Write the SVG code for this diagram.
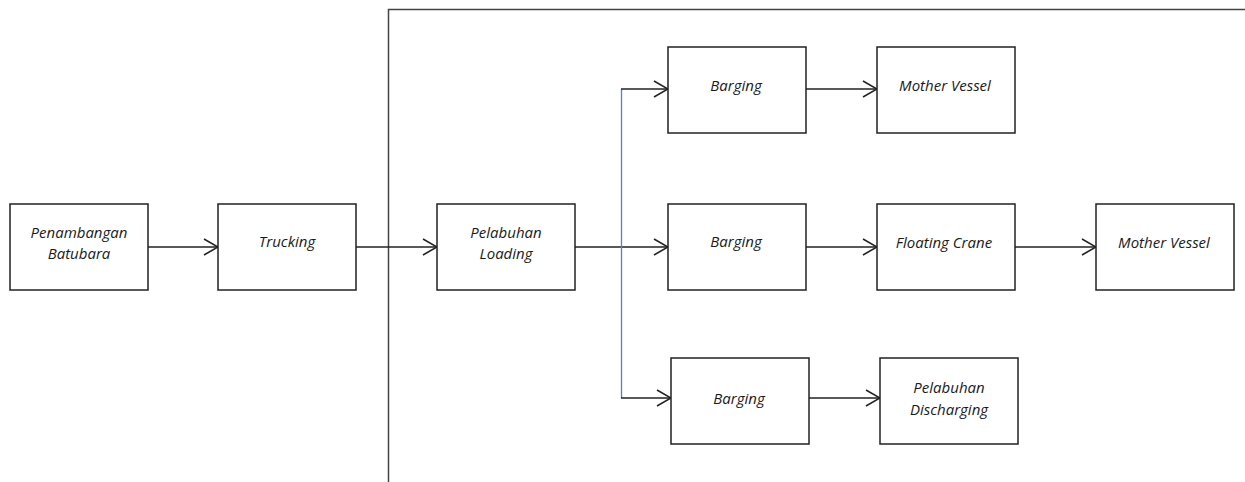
<svg xmlns="http://www.w3.org/2000/svg" width="1245" height="482" viewBox="0 0 1245 482">
<style>
.box{fill:#fff;stroke:#222;stroke-width:1.5}
.t{font-family:"Open Sans","Liberation Sans",sans-serif;font-style:italic;font-size:15px;fill:#1a1a1a;text-anchor:middle}
.c{fill:none;stroke:#222;stroke-width:1.5}
.b{fill:none;stroke:#5b7fc0;stroke-width:1.3}
</style>
<defs>
<marker id="ah" markerWidth="16" markerHeight="18" refX="15" refY="9" orient="auto" markerUnits="userSpaceOnUse">
<path d="M1,1 L15,9 L1,17" fill="none" stroke="#222" stroke-width="1.5"/>
</marker>
</defs>
<g id="frame">
<path d="M388.5,482 L388.5,9.5 L1245,9.5" fill="none" stroke="#444" stroke-width="1.5"/>
</g>
<g id="connectors">
<line class="c" x1="148" y1="247" x2="218" y2="247" marker-end="url(#ah)"/>
<line class="c" x1="356" y1="247" x2="437" y2="247" marker-end="url(#ah)"/>
<line class="c" x1="575" y1="247" x2="668" y2="247" marker-end="url(#ah)"/>
<line class="b" x1="621.5" y1="89" x2="621.5" y2="398"/>
<line class="c" x1="621" y1="89" x2="668" y2="89" marker-end="url(#ah)"/>
<line class="c" x1="621" y1="398" x2="671" y2="398" marker-end="url(#ah)"/>
<line class="c" x1="806" y1="89" x2="877" y2="89" marker-end="url(#ah)"/>
<line class="c" x1="806" y1="247" x2="877" y2="247" marker-end="url(#ah)"/>
<line class="c" x1="1015" y1="247" x2="1096" y2="247" marker-end="url(#ah)"/>
<line class="c" x1="809" y1="398" x2="880" y2="398" marker-end="url(#ah)"/>
</g>
<g id="n1"><rect class="box" x="10" y="204" width="138" height="86"/><text class="t" x="79" y="238">Penambangan</text><text class="t" x="79" y="259">Batubara</text></g>
<g id="n2"><rect class="box" x="218" y="204" width="138" height="86"/><text class="t" x="287" y="247">Trucking</text></g>
<g id="n3"><rect class="box" x="437" y="204" width="138" height="86"/><text class="t" x="506" y="238">Pelabuhan</text><text class="t" x="506" y="259">Loading</text></g>
<g id="n4"><rect class="box" x="668" y="47" width="138" height="86"/><text class="t" x="736" y="91">Barging</text></g>
<g id="n5"><rect class="box" x="877" y="47" width="138" height="86"/><text class="t" x="945" y="91">Mother Vessel</text></g>
<g id="n6"><rect class="box" x="668" y="204" width="138" height="86"/><text class="t" x="736" y="247">Barging</text></g>
<g id="n7"><rect class="box" x="877" y="204" width="138" height="86"/><text class="t" x="944" y="248">Floating Crane</text></g>
<g id="n8"><rect class="box" x="1096" y="204" width="138" height="86"/><text class="t" x="1164" y="248">Mother Vessel</text></g>
<g id="n9"><rect class="box" x="671" y="358" width="138" height="86"/><text class="t" x="739" y="404">Barging</text></g>
<g id="n10"><rect class="box" x="880" y="358" width="138" height="86"/><text class="t" x="949" y="393">Pelabuhan</text><text class="t" x="949" y="415">Discharging</text></g>
</svg>
